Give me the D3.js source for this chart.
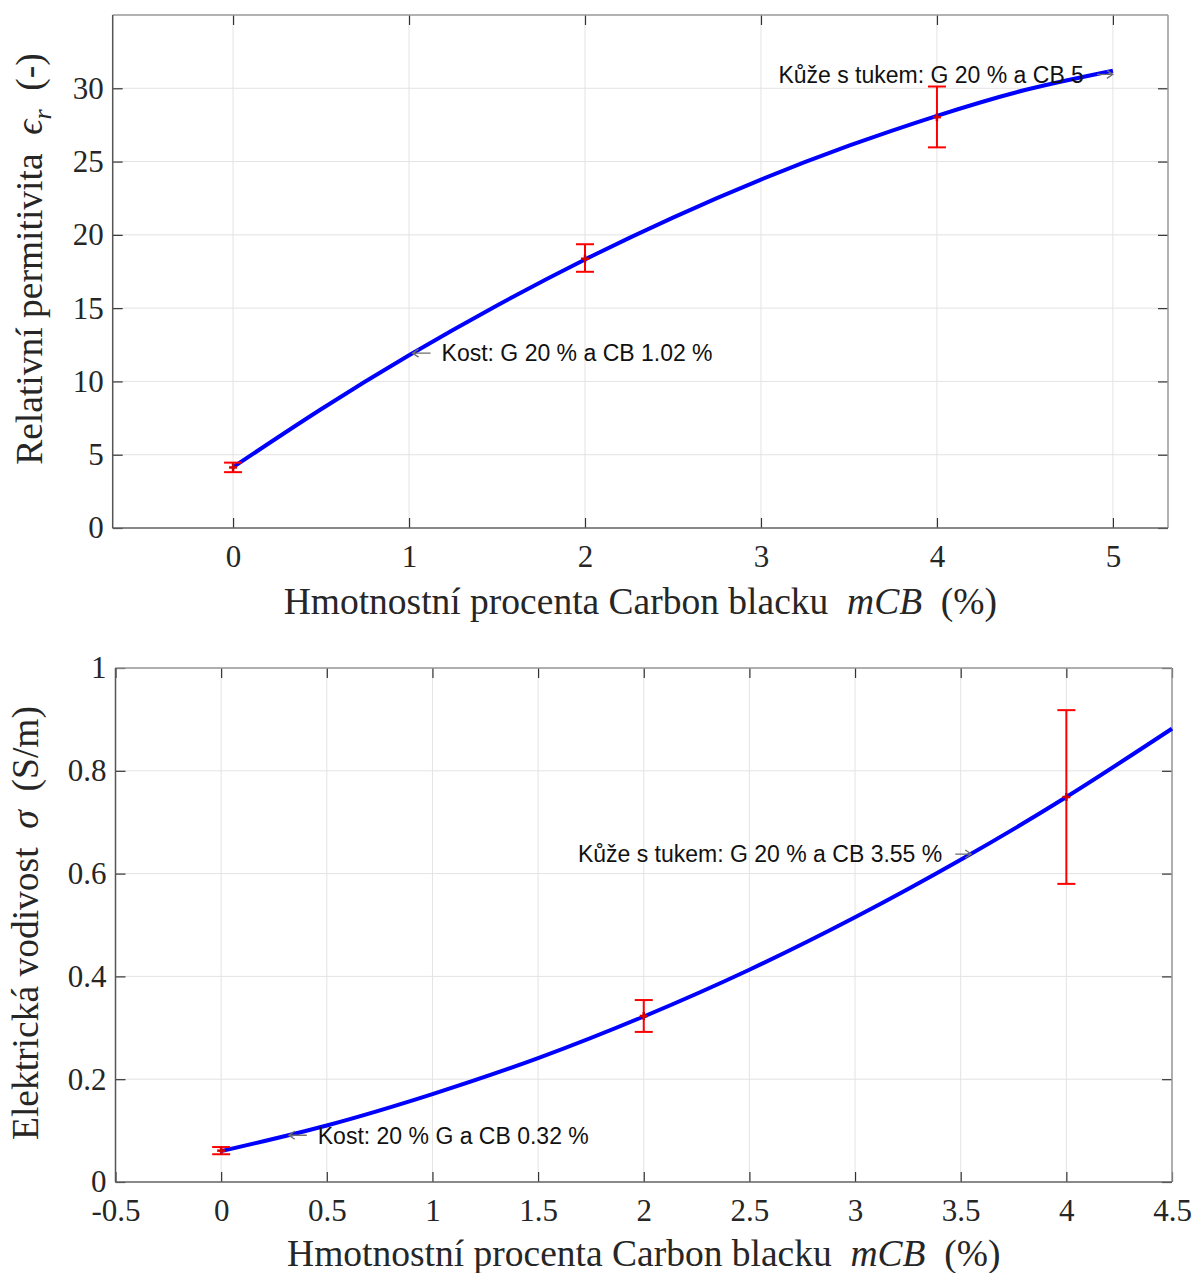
<!DOCTYPE html>
<html>
<head>
<meta charset="utf-8">
<script src="https://cdn.jsdelivr.net/npm/d3@7"></script>
<style>
  html, body { margin: 0; padding: 0; background: #fff; }
  svg { display: block; }
</style>
</head>
<body>
<svg id="chart" width="1194" height="1273"></svg>
<script>
// ---- Relative permittivity vs. carbon black content ----
const epsXTicks = [0, 1, 2, 3, 4, 5];
const epsYTicks = [0, 5, 10, 15, 20, 25, 30];
const epsMeasX = [0, 2, 4];
const epsMeasY = [4.13, 18.37, 28.03];
const epsErrLow = [3.81, 17.48, 25.97];
const epsErrHigh = [4.46, 19.36, 30.12];
const epsFitX = [0, 0.5, 1, 1.5, 2, 2.5, 3, 3.5, 4, 4.5, 5];
const epsFitY = [4.15, 8.10, 11.78, 15.18, 18.32, 21.18, 23.77, 26.08, 28.12, 29.88, 31.20];
const epsNoteX = [1.02, 5];
const epsNoteY = [11.93, 30.95];
const epsNoteText = ["Kost: G 20 % a CB 1.02 %", "Kůže s tukem: G 20 % a CB 5"];
const epsNoteSide = ["left", "right"];

// ---- Electrical conductivity vs. carbon black content ----
const sigXTicks = [-0.5, 0, 0.5, 1, 1.5, 2, 2.5, 3, 3.5, 4, 4.5];
const sigYTicks = [0, 0.2, 0.4, 0.6, 0.8, 1];
const sigMeasX = [0, 2, 4];
const sigMeasY = [0.061, 0.323, 0.749];
const sigErrLow = [0.054, 0.292, 0.580];
const sigErrHigh = [0.068, 0.354, 0.918];
const sigFitX = [0, 0.5, 1, 1.5, 2, 2.5, 3, 3.5, 4, 4.5];
const sigFitY = [0.060, 0.110, 0.171, 0.241, 0.322, 0.413, 0.515, 0.627, 0.749, 0.882];
const sigNoteX = [0.32, 3.55];
const sigNoteY = [0.091, 0.638];
const sigNoteText = ["Kost: 20 % G a CB 0.32 %", "Kůže s tukem: G 20 % a CB 3.55 %"];
const sigNoteSide = ["left", "right"];

const svg = d3.select("#chart");
svg.append("rect").attr("width", 1194).attr("height", 1273).attr("fill", "#fff");

const SERIF = "'Liberation Serif', 'Times New Roman', serif";
const SANS = "'Liberation Sans', Arial, sans-serif";

function drawPanel(cfg) {
  const x = d3.scaleLinear().domain(cfg.xDomain).range([cfg.left, cfg.right]);
  const y = d3.scaleLinear().domain(cfg.yDomain).range([cfg.bottom, cfg.top]);
  const g = svg.append("g");

  // grid
  const grid = g.append("g").attr("stroke", "#e3e3e3").attr("stroke-width", 1);
  grid.selectAll(".gx").data(cfg.xTicks).join("line")
    .attr("x1", d => x(d)).attr("x2", d => x(d))
    .attr("y1", cfg.top).attr("y2", cfg.bottom);
  grid.selectAll(".gy").data(cfg.yTicks).join("line")
    .attr("x1", cfg.left).attr("x2", cfg.right)
    .attr("y1", d => y(d)).attr("y2", d => y(d));

  const fmt = d => String(d);
  // bottom axis with labels
  const axB = g.append("g").attr("transform", `translate(0,${cfg.bottom})`)
    .call(d3.axisBottom(x).tickValues(cfg.xTicks).tickFormat(fmt)
      .tickSizeInner(-10).tickSizeOuter(0).tickPadding(17));
  // left axis with labels
  const axL = g.append("g").attr("transform", `translate(${cfg.left},0)`)
    .call(d3.axisLeft(y).tickValues(cfg.yTicks).tickFormat(fmt)
      .tickSizeInner(-10).tickSizeOuter(0).tickPadding(9));
  // mirrored ticks on top and right
  const axT = g.append("g").attr("transform", `translate(0,${cfg.top})`)
    .call(d3.axisTop(x).tickValues(cfg.xTicks).tickFormat("")
      .tickSizeInner(-10).tickSizeOuter(0));
  const axR = g.append("g").attr("transform", `translate(${cfg.right},0)`)
    .call(d3.axisRight(y).tickValues(cfg.yTicks).tickFormat("")
      .tickSizeInner(-10).tickSizeOuter(0));

  [axB, axL, axT, axR].forEach(a => {
    a.select(".domain").remove();
    a.selectAll(".tick line").attr("stroke", "#333").attr("stroke-width", 1.2);
    a.selectAll("text").attr("fill", "#262626")
      .style("font-family", SERIF).style("font-size", "31px");
  });

  // box
  g.append("line").attr("x1", cfg.left).attr("x2", cfg.right)
    .attr("y1", cfg.top).attr("y2", cfg.top).attr("stroke", "#999").attr("stroke-width", 1.5);
  g.append("line").attr("x1", cfg.right).attr("x2", cfg.right)
    .attr("y1", cfg.top).attr("y2", cfg.bottom).attr("stroke", "#999").attr("stroke-width", 1.5);
  g.append("line").attr("x1", cfg.left).attr("x2", cfg.right)
    .attr("y1", cfg.bottom).attr("y2", cfg.bottom).attr("stroke", "#666").attr("stroke-width", 1.5);
  g.append("line").attr("x1", cfg.left).attr("x2", cfg.left)
    .attr("y1", cfg.top).attr("y2", cfg.bottom).attr("stroke", "#555").attr("stroke-width", 1.5);

  // fitted curve
  const line = d3.line().x(d => x(d[0])).y(d => y(d[1])).curve(d3.curveNatural);
  g.append("path").datum(cfg.fitX.map((v, i) => [v, cfg.fitY[i]]))
    .attr("d", line).attr("fill", "none").attr("stroke", "#0000ff")
    .attr("stroke-width", 4).attr("stroke-linejoin", "round");

  // error bars
  const eb = g.append("g").attr("stroke", "#ff0000").attr("stroke-width", 2).attr("fill", "none");
  cfg.measX.forEach((mx, i) => {
    const cx = x(mx);
    eb.append("line").attr("x1", cx).attr("x2", cx)
      .attr("y1", y(cfg.errLow[i])).attr("y2", y(cfg.errHigh[i]));
    eb.append("line").attr("x1", cx - 9).attr("x2", cx + 9)
      .attr("y1", y(cfg.errLow[i])).attr("y2", y(cfg.errLow[i]));
    eb.append("line").attr("x1", cx - 9).attr("x2", cx + 9)
      .attr("y1", y(cfg.errHigh[i])).attr("y2", y(cfg.errHigh[i]));
    const cy = y(cfg.measY[i]);
    eb.append("line").attr("x1", cx - 4).attr("x2", cx + 4).attr("y1", cy).attr("y2", cy)
      .attr("stroke", "#d40000").attr("stroke-width", 2.5);
    eb.append("line").attr("x1", cx).attr("x2", cx).attr("y1", cy - 4).attr("y2", cy + 4)
      .attr("stroke", "#d40000").attr("stroke-width", 2.5);
  });

  // annotations with arrows
  const an = g.append("g");
  cfg.noteX.forEach((nx, i) => {
    const px = x(nx), py = y(cfg.noteY[i]);
    const left = cfg.noteSide[i] === "left";
    const tail = left ? px + 18 : px - 16;
    const hd = left ? 6 : -6;
    an.append("path")
      .attr("d", `M${tail},${py}L${px},${py}M${px + hd},${py - 4}L${px},${py}L${px + hd},${py + 4}`)
      .attr("fill", "none").attr("stroke", "#6e6e6e").attr("stroke-width", 1.3);
    an.append("text")
      .attr("x", left ? px + 29 : px - 29).attr("y", py)
      .attr("dy", "0.36em")
      .attr("text-anchor", left ? "start" : "end")
      .attr("fill", "#111")
      .style("font-family", SANS).style("font-size", "23px")
      .text(cfg.noteText[i]);
  });

  // x axis title
  const xt = g.append("text")
    .attr("x", (cfg.left + cfg.right) / 2).attr("y", cfg.xTitleY)
    .attr("text-anchor", "middle").attr("fill", "#262626")
    .style("font-family", SERIF).style("font-size", "37.5px")
    .attr("xml:space", "preserve");
  xt.append("tspan").text("Hmotnostní procenta Carbon blacku  ");
  xt.append("tspan").style("font-style", "italic").text("mCB");
  xt.append("tspan").text("  (%)");

  // y axis title
  const yt = g.append("text")
    .attr("transform", `translate(${cfg.yTitleX},${cfg.yTitleY}) rotate(-90)`)
    .attr("text-anchor", "middle").attr("fill", "#262626")
    .style("font-family", SERIF).style("font-size", "37.5px")
    .attr("xml:space", "preserve");
  cfg.yTitle(yt);
}

drawPanel({
  left: 112.7, right: 1168, top: 15, bottom: 528,
  xDomain: [-0.684, 5.313], yDomain: [0, 35],
  xTicks: epsXTicks, yTicks: epsYTicks,
  measX: epsMeasX, measY: epsMeasY, errLow: epsErrLow, errHigh: epsErrHigh,
  fitX: epsFitX, fitY: epsFitY,
  noteX: epsNoteX, noteY: epsNoteY, noteText: epsNoteText, noteSide: epsNoteSide,
  xTitleY: 614, yTitleX: 42, yTitleY: 259,
  yTitle: t => {
    t.append("tspan").text("Relativní permitivita  ");
    t.append("tspan").style("font-style", "italic").text("ϵ");
    t.append("tspan").style("font-style", "italic").style("font-size", "26px")
      .attr("dy", 9).text("r");
    t.append("tspan").attr("dy", -9).text("  (-)");
  }
});

drawPanel({
  left: 115.5, right: 1172, top: 668, bottom: 1182,
  xDomain: [-0.5, 4.5], yDomain: [0, 1],
  xTicks: sigXTicks, yTicks: sigYTicks,
  measX: sigMeasX, measY: sigMeasY, errLow: sigErrLow, errHigh: sigErrHigh,
  fitX: sigFitX, fitY: sigFitY,
  noteX: sigNoteX, noteY: sigNoteY, noteText: sigNoteText, noteSide: sigNoteSide,
  xTitleY: 1266, yTitleX: 38, yTitleY: 923,
  yTitle: t => {
    t.append("tspan").text("Elektrická vodivost  ");
    t.append("tspan").style("font-style", "italic").text("σ");
    t.append("tspan").text("  (S/m)");
  }
});
</script>
</body>
</html>
